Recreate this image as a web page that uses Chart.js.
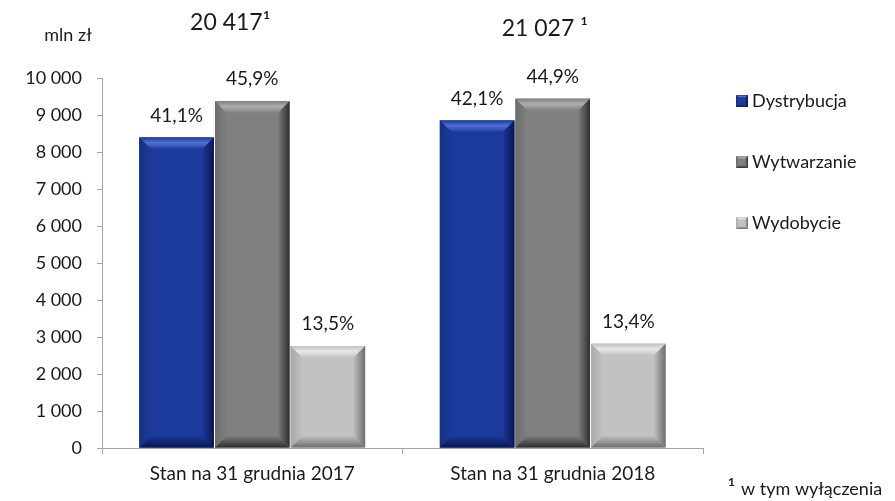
<!DOCTYPE html>
<html lang="pl">
<head>
<meta charset="utf-8">
<title>Aktywa segmentów</title>
<script src="https://cdn.jsdelivr.net/npm/chart.js@4.4.1/dist/chart.umd.min.js"></script>
<style>
  html, body { margin: 0; padding: 0; background: #fff; }
  #wrap { width: 895px; height: 501px; }
</style>
</head>
<body>
<div id="wrap"><canvas id="segmentChart" width="895" height="501"></canvas></div>
<script>
// ==========================================
// Data
// ==========================================
const categories = ['Stan na 31 grudnia 2017', 'Stan na 31 grudnia 2018'];
const totalLabels = ['20 417\u00b9', '21 027 \u00b9'];
const seriesNames = ['Dystrybucja', 'Wytwarzanie', 'Wydobycie'];

// values in mln zł
const dystrybucja = [8391, 8852];
const wytwarzanie = [9371, 9441];
const wydobycie = [2756, 2818];

// share of the total, shown above each bar
const dystrybucjaShare = ['41,1%', '42,1%'];
const wytwarzanieShare = ['45,9%', '44,9%'];
const wydobycieShare = ['13,5%', '13,4%'];

const yMin = 0;
const yMax = 10000;
const yStep = 1000;

const unitLabel = 'mln zł';
const footnoteMark = '1';
const footnote = 'w tym wyłączenia';

// ==========================================
// Styling
// ==========================================
const FONT = 'Lato, "Open Sans", sans-serif';
const TEXT = '#1a1a1a';
const AXIS = '#a6a6a6';

// face / highlight / shade / dark edge for the bevelled bars
const palettes = [
  { face: '#1c3a9c', light: '#4f70d4', shade: '#15307f', dark: '#091650' },
  { face: '#808080', light: '#aeaeae', shade: '#6c6c6c', dark: '#2e2e2e' },
  { face: '#c2c2c2', light: '#e6e6e6', shade: '#a9a9a9', dark: '#6e6e6e' }
];

const shares = [dystrybucjaShare, wytwarzanieShare, wydobycieShare];

function formatThousands(v) {
  return String(v).replace(/\B(?=(\d{3})+(?!\d))/g, ' ');
}

function fillPoly(ctx, pts, style) {
  ctx.beginPath();
  ctx.moveTo(pts[0][0], pts[0][1]);
  for (let i = 1; i < pts.length; i++) ctx.lineTo(pts[i][0], pts[i][1]);
  ctx.closePath();
  ctx.fillStyle = style;
  ctx.fill();
}

// Paints a raised, bevelled rectangle (face plus four sloped edges)
function drawBevel(ctx, l, t, r, b, pal, size) {
  const s = Math.min(size, (r - l) / 2, (b - t) / 2);
  ctx.save();
  ctx.fillStyle = pal.face;
  ctx.fillRect(l, t, r - l, b - t);

  let g = ctx.createLinearGradient(0, t, 0, t + s);
  g.addColorStop(0, pal.face);
  g.addColorStop(0.45, pal.light);
  g.addColorStop(1, pal.face);
  fillPoly(ctx, [[l, t], [r, t], [r - s, t + s], [l + s, t + s]], g);

  g = ctx.createLinearGradient(l, 0, l + s, 0);
  g.addColorStop(0, pal.shade);
  g.addColorStop(1, pal.face);
  fillPoly(ctx, [[l, t], [l + s, t + s], [l + s, b - s], [l, b]], g);

  g = ctx.createLinearGradient(r - s, 0, r, 0);
  g.addColorStop(0, pal.face);
  g.addColorStop(1, pal.dark);
  fillPoly(ctx, [[r, t], [r - s, t + s], [r - s, b - s], [r, b]], g);

  g = ctx.createLinearGradient(0, b - s, 0, b);
  g.addColorStop(0, pal.face);
  g.addColorStop(1, pal.dark);
  fillPoly(ctx, [[l, b], [l + s, b - s], [r - s, b - s], [r, b]], g);
  ctx.restore();
}

// Bevel overlay + share labels above each bar
const bevelBars = {
  id: 'bevelBars',
  afterDatasetsDraw(chart) {
    const ctx = chart.ctx;
    chart.data.datasets.forEach((ds, di) => {
      const meta = chart.getDatasetMeta(di);
      meta.data.forEach((bar, i) => {
        const p = bar.getProps(['x', 'y', 'base', 'width'], true);
        const l = p.x - p.width / 2;
        const r = p.x + p.width / 2;
        drawBevel(ctx, l, p.y, r, p.base, palettes[di], 12);

        ctx.save();
        ctx.font = '19px ' + FONT;
        ctx.fillStyle = TEXT;
        ctx.textAlign = 'center';
        ctx.textBaseline = 'middle';
        ctx.fillText(shares[di][i], p.x, p.y - 22);
        ctx.restore();
      });
    });
  }
};

// Totals above the groups, unit label, legend and footnote
const annotations = {
  id: 'annotations',
  afterDraw(chart) {
    const ctx = chart.ctx;
    const area = chart.chartArea;
    const xs = chart.scales.x;
    ctx.save();
    ctx.fillStyle = TEXT;
    ctx.textBaseline = 'middle';

    ctx.font = '23px ' + FONT;
    ctx.textAlign = 'center';
    ctx.fillText(totalLabels[0], xs.getPixelForValue(0) - 22, 23);
    ctx.fillText(totalLabels[1], xs.getPixelForValue(1) - 8, 29);

    ctx.font = '18px ' + FONT;
    ctx.fillText(unitLabel, 68, 35);

    // legend
    ctx.textAlign = 'left';
    seriesNames.forEach((name, i) => {
      const y = area.top + 23 + i * 61;
      const bx = area.right + 33;
      drawBevel(ctx, bx, y - 6, bx + 12, y + 6, palettes[i], 3);
      ctx.fillStyle = TEXT;
      ctx.font = '18px ' + FONT;
      ctx.fillText(name, bx + 16, y);
    });

    // footnote
    ctx.font = 'bold 12px ' + FONT;
    ctx.fillText(footnoteMark, 728, 482);
    ctx.font = '18px ' + FONT;
    ctx.fillText(footnote, 741, 489);
    ctx.restore();
  }
};

const datasets = [dystrybucja, wytwarzanie, wydobycie].map((values, i) => ({
  label: seriesNames[i],
  data: values,
  backgroundColor: palettes[i].face,
  borderWidth: 0,
  barPercentage: 0.985,
  categoryPercentage: 0.755
}));

new Chart(document.getElementById('segmentChart'), {
  type: 'bar',
  data: { labels: categories, datasets },
  options: {
    responsive: false,
    animation: false,
    devicePixelRatio: 1,
    layout: { padding: { top: 78, right: 192, bottom: 0, left: 0 } },
    plugins: {
      legend: { display: false },
      tooltip: { enabled: false }
    },
    scales: {
      x: {
        grid: {
          offset: true,
          drawOnChartArea: false,
          drawTicks: true,
          tickLength: 6,
          color: AXIS
        },
        border: { color: AXIS, width: 1 },
        ticks: {
          color: TEXT,
          font: { family: FONT, size: 19 },
          padding: 8
        },
        afterFit(scale) { scale.height = 53; }
      },
      y: {
        min: yMin,
        max: yMax,
        grid: {
          drawOnChartArea: false,
          drawTicks: true,
          tickLength: 5,
          color: AXIS
        },
        border: { color: AXIS, width: 1 },
        ticks: {
          stepSize: yStep,
          color: TEXT,
          font: { family: FONT, size: 18 },
          padding: 15,
          callback: (v) => formatThousands(v)
        },
        afterFit(scale) { scale.width = 102; }
      }
    }
  },
  plugins: [bevelBars, annotations]
});
</script>
</body>
</html>
